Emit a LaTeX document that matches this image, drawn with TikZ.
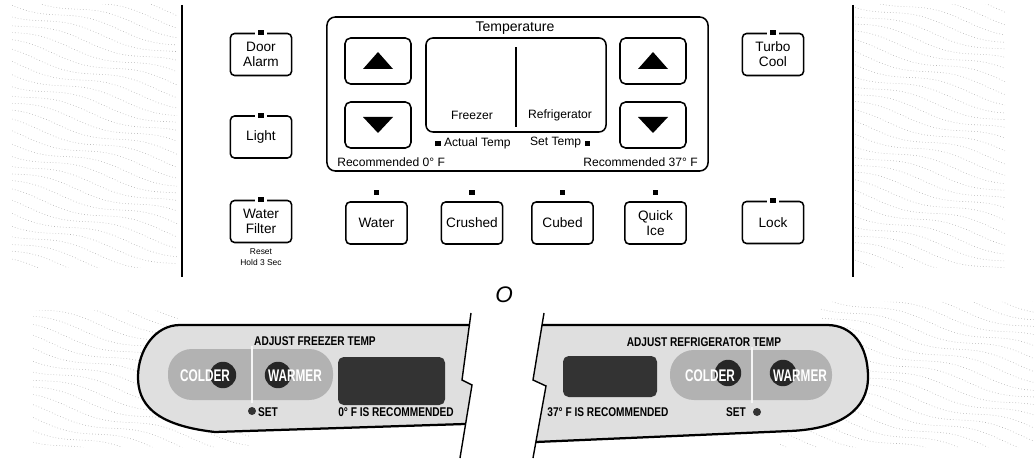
\documentclass[tikz,border=0pt]{standalone}
\usepackage{fontspec}
\setmainfont{Liberation Sans}
\usetikzlibrary{positioning}

\begin{document}
\begin{tikzpicture}[x=0.025cm,y=-0.025cm,
		btn/.style={draw,line width=1.1pt,rounded corners=3pt,minimum width=1.53cm,minimum height=1.05cm,align=center,inner sep=1pt,font=\fontsize{9.7}{10.6}\selectfont},
		arrowbtn/.style={draw,line width=1.1pt,rounded corners=4pt,minimum width=1.65cm,minimum height=1.15cm},
		led/.style={fill=black,inner sep=0pt,minimum size=0.13cm},
		ledgap/.style={led,preaction={draw=white,line width=5pt}},
		lbl/.style={font=\fontsize{8.6}{9}\selectfont,inner sep=0pt},
		hatch/.style={gray!60,line width=0.4pt,dash pattern=on 0.5pt off 1.6pt},
		paneltxt/.style={font=\fontsize{9}{9}\selectfont\bfseries,xscale=0.8,inner sep=0pt},
		keytxt/.style={text=white,font=\fontsize{12}{12}\selectfont\bfseries,xscale=0.7,inner sep=0pt}]
			\useasboundingbox (0,0) rectangle (1034,459);
			
			\begin{scope}
				\clip (12,5) rectangle (177,268);
				\foreach \k in {-8,...,27}
					\draw[hatch] plot[domain=12:177,samples=40] (\x,{10*\k+0.25*\x+4*sin(3*\x+50*\k)});
			\end{scope}
			\begin{scope}
				\clip (855,5) rectangle (1005,268);
				\foreach \k in {-30,...,6}
					\draw[hatch] plot[domain=855:1005,samples=40] (\x,{10*\k+0.25*\x+4*sin(3*\x+50*\k)});
			\end{scope}
			\begin{scope}
				\clip (33,310) -- (178,310) -- (178,430) -- (250,432) -- (250,447) -- (33,447) -- cycle;
				\foreach \k in {27,...,45}
					\draw[hatch] plot[domain=33:250,samples=50] (\x,{10*\k+0.25*\x+4*sin(3*\x+50*\k)});
			\end{scope}
			\begin{scope}
				\clip (820,302) -- (1034,302) -- (1034,447) -- (780,447) -- (780,436) -- (820,430) -- cycle;
				\foreach \k in {3,...,25}
					\draw[hatch] plot[domain=780:1034,samples=50] (\x,{10*\k+0.25*\x+4*sin(3*\x+50*\k)});
			\end{scope}
			
			\draw[line width=1.5pt] (182,5) -- (182,277);
			\draw[line width=1.5pt] (853,5) -- (853,277);
			
			\node[btn] (door) at (261,54.5) {Door\\Alarm};
			\node[btn] (light) at (261,137) {Light};
			\node[btn] (filter) at (261,221.5) {Water\\Filter};
			\node[font=\fontsize{6}{8}\selectfont,align=center,inner sep=0pt,below=0.12cm of filter] (reset) {Reset\\Hold 3 Sec};
			\node[btn] (turbo) at (773,54.5) {Turbo\\Cool};
			\node[btn] (lock) at (773,222.5) {Lock};
			
			\node[btn] (water) at (376.5,223) {Water};
			\node[btn] (crushed) at (472,223) {Crushed};
			\node[btn] (cubed) at (562.5,223) {Cubed};
			\node[btn] (quick) at (655.5,223) {Quick\\Ice};
			
			\foreach \b in {door,light,filter,turbo,lock}
				\node[ledgap] (\b led) at (\b.north) {};
			\foreach \b in {water,crushed,cubed,quick}
				\node[led] (\b led) at ([yshift=0.22cm]\b.north) {};
			
			\node[draw,line width=1.1pt,rounded corners=6pt,minimum width=9.525cm,minimum height=3.85cm] (panel) at (517.5,94) {};
			\node[font=\fontsize{10}{10}\selectfont,inner sep=0pt] (title) at (515,28) {Temperature};
			
			\node[arrowbtn] (fzup) at (378,61) {};
			\node[arrowbtn] (fzdn) at (378,125) {};
			\node[arrowbtn] (rfup) at (653,61) {};
			\node[arrowbtn] (rfdn) at (653,125) {};
			\foreach \b in {fzup,rfup}
				\fill ([shift={(-15,8)}]\b.center) -- ([shift={(15,8)}]\b.center) -- ([shift={(0,-9)}]\b.center) -- cycle;
			\foreach \b in {fzdn,rfdn}
				\fill ([shift={(-15,-8)}]\b.center) -- ([shift={(15,-8)}]\b.center) -- ([shift={(0,8)}]\b.center) -- cycle;
			
			\node[draw,line width=1.1pt,rounded corners=5pt,minimum width=4.5cm,minimum height=2.35cm] (disp) at (516,85) {};
			\draw[line width=1.6pt] ([yshift=-0.25cm]disp.north) -- ([yshift=0.15cm]disp.south);
			\node[lbl] (fz) at (472,115) {Freezer};
			\node[lbl] (rf) at (560,115) {Refrigerator};
			\node[lbl] (actual) at (473,143) {\rule{0.45em}{0.45em} Actual Temp};
			\node[lbl] (set) at (560,143) {Set Temp \rule{0.45em}{0.45em}};
			\node[lbl,anchor=west] (recfz) at (337,162) {Recommended 0° F};
			\node[lbl,anchor=east] (recrf) at (698,162) {Recommended 37° F};
			
			\node[font=\fontsize{16}{16}\selectfont\itshape,inner sep=0pt] (or) at (504,295) {O};
			
			\fill[gray!25] (469,325) -- (180,325) .. controls (155,325) and (138,350) .. (138,377) .. controls (138,402) and (152,425) .. (215,432) -- (465,424) -- (472,385) -- (462,380) -- cycle;
			\draw[line width=1.6pt] (469,325) -- (180,325) .. controls (155,325) and (138,350) .. (138,377) .. controls (138,402) and (152,425) .. (215,432) -- (465,424);
			\draw[line width=1pt] (471,313) -- (462,380) -- (472,385) -- (460,458);
			
			\fill[gray!25] (542,325) -- (827,325) .. controls (852,325) and (868,345) .. (868,377) .. controls (868,410) and (840,429) .. (790,431) -- (536,442) -- (546,386) -- (533,380) -- cycle;
			\draw[line width=1.6pt] (542,325) -- (827,325) .. controls (852,325) and (868,345) .. (868,377) .. controls (868,410) and (840,429) .. (790,431) -- (536,442);
			\draw[line width=1pt] (544,313) -- (533,380) -- (546,386) -- (533,458);
			
			\fill[gray!60,rounded corners=17pt] (168,349) rectangle (333,400);
			\draw[gray!8,line width=1.5pt] (252,346) -- (252,403);
			\fill[black!85] (223,375) circle (0.33cm);
			\fill[black!85] (278,375) circle (0.33cm);
			\node[keytxt] (fzcold) at (205,376) {COLDER};
			\node[keytxt] (fzwarm) at (295,376) {WARMER};
			\fill[black!80,rounded corners=4pt] (338,357) rectangle (445,405);
			\node[paneltxt] (fzadj) at (315,341) {ADJUST FREEZER TEMP};
			\node[paneltxt] (fzrec) at (396,412) {0° F IS RECOMMENDED};
			\fill[black!80] (252,411) circle (0.1cm);
			\node[paneltxt] (fzset) at (268,412) {SET};
			
			\fill[gray!60,rounded corners=17pt] (670,350) rectangle (832,400);
			\draw[gray!8,line width=1.5pt] (752,347) -- (752,403);
			\fill[black!85] (728,373) circle (0.33cm);
			\fill[black!85] (783,373) circle (0.33cm);
			\node[keytxt] (rfcold) at (710,376) {COLDER};
			\node[keytxt] (rfwarm) at (800,376) {WARMER};
			\fill[black!80,rounded corners=4pt] (563,356) rectangle (657,397);
			\node[paneltxt] (rfadj) at (704,342) {ADJUST REFRIGERATOR TEMP};
			\node[paneltxt] (rfrec) at (608,412) {37° F IS RECOMMENDED};
			\fill[black!80] (757,412) circle (0.1cm);
			\node[paneltxt] (rfset) at (736,412) {SET};
		\end{tikzpicture}
\end{document}
